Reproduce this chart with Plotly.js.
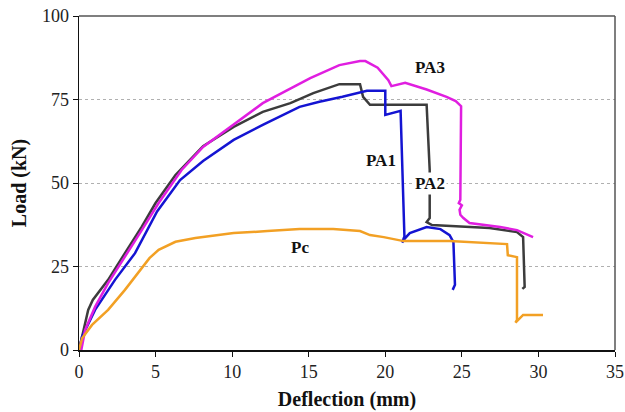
<!DOCTYPE html>
<html>
<head>
<meta charset="utf-8">
<script src="https://cdn.plot.ly/plotly-3.0.1.min.js"></script>
<style>html,body{margin:0;padding:0;background:#fff;}#chart{width:625px;height:412px;}</style>
</head>
<body>
<div id="chart"></div>
<script>
// Deflection (mm) / Load (kN)
const pa3X = [0, 0.15, 0.4, 1.05, 1.9, 3.0, 4.1, 5.2, 6.7, 8.1, 9.9, 12.0, 15.1, 17.0, 18.35, 18.7, 19.5, 20.2, 20.4, 21.3, 22.7, 24.0, 24.6, 24.95, 24.9, 24.8, 25.0, 24.85, 24.9, 25.1, 25.5, 27.5, 28.6, 29.65];
const pa3Y = [0, 0, 6, 12.9, 20, 27.8, 35.9, 44, 53.9, 60.8, 66.8, 73.9, 81.4, 85.3, 86.5, 86.5, 84.5, 80.8, 79, 80, 78, 75.8, 74.5, 73, 45, 44, 43.3, 42, 40.5, 39.5, 38, 36.8, 35.9, 33.8];

const pa2X = [0, 0.2, 0.6, 0.9, 1.9, 3.0, 4.1, 5.0, 6.3, 8.1, 10.1, 12.0, 13.8, 15.3, 17.0, 18.35, 18.55, 19.0, 22.7, 22.9, 22.9, 22.7, 23.05, 26.8, 28.6, 29.0, 29.1, 28.95];
const pa2Y = [0, 4, 12, 15, 21, 29, 36.9, 44, 52.4, 61, 66.8, 71.3, 73.9, 76.9, 79.6, 79.6, 75.8, 73.4, 73.4, 53.9, 39.5, 38.3, 37.4, 36.5, 35.3, 33.8, 18.9, 18.3];

const pa1X = [0, 0.2, 1.05, 2.35, 3.66, 5.1, 6.6, 8.1, 10.1, 12.0, 14.4, 15.7, 17.2, 18.8, 20.0, 20.0, 21.0, 21.25, 21.1, 21.3, 21.6, 22.7, 23.6, 24.2, 24.45, 24.55, 24.4];
const pa1Y = [0, 4, 12, 21, 29, 41.5, 50.9, 56.6, 62.9, 67.4, 72.8, 74.3, 75.8, 77.6, 77.6, 70.4, 71.6, 34, 32.2, 33.5, 35, 36.8, 36.2, 34.4, 32.3, 19.5, 18];

const pcX = [0, 0.2, 0.85, 1.9, 3.0, 4.0, 4.6, 5.2, 6.3, 7.6, 10.1, 12.3, 14.4, 16.6, 18.35, 19.0, 19.9, 21.2, 24.2, 27.95, 28.0, 28.6, 28.6, 28.5, 29.0, 30.3];
const pcY = [0, 3.5, 7.5, 12, 18, 24, 27.5, 30, 32.4, 33.5, 35, 35.6, 36.2, 36.2, 35.6, 34.4, 33.8, 32.6, 32.6, 31.7, 28.4, 27.8, 9, 8.2, 10.5, 10.5];

const seriesNames = ["PA2", "PA1", "PA3", "Pc"];
const labelText = ["PA3", "PA1", "PA2", "Pc"];
const labelX = [22.9, 19.7, 22.9, 14.4];
const labelY = [84.7, 56.6, 50.0, 30.8];

const xTicks = [0, 5, 10, 15, 20, 25, 30, 35];
const yTicks = [0, 25, 50, 75, 100];

const mk = (x, y, name, color) => ({
  x: x, y: y, name: name, type: 'scatter', mode: 'lines',
  line: {color: color, width: 2.5}, hoverinfo: 'skip'
});

const data = [
  mk(pa2X, pa2Y, seriesNames[0], '#3c3c3c'),
  mk(pa1X, pa1Y, seriesNames[1], '#1414d2'),
  mk(pa3X, pa3Y, seriesNames[2], '#e01ee0'),
  mk(pcX, pcY, seriesNames[3], '#f2a024')
];

const annotations = labelText.map((t, i) => ({
  x: labelX[i], y: labelY[i], xref: 'x', yref: 'y', text: '<b>' + t + '</b>',
  showarrow: false, bgcolor: t === 'PA2' ? '#ffffff' : 'rgba(0,0,0,0)',
  font: {family: 'Liberation Serif, Times New Roman, serif', size: 17, color: '#111'}
}));

const layout = {
  width: 625, height: 412,
  margin: {l: 79, r: 10, t: 16, b: 62},
  paper_bgcolor: '#fff', plot_bgcolor: '#fff',
  showlegend: false,
  font: {family: 'Liberation Serif, Times New Roman, serif', color: '#222'},
  xaxis: {
    range: [0, 35], tickvals: xTicks, ticktext: xTicks.map(String),
    showgrid: false, zeroline: false,
    showline: true, linecolor: '#111', linewidth: 1.5,
    ticks: 'outside', ticklen: 5, tickcolor: '#111',
    tickfont: {size: 18, color: '#222'},
    title: {text: '<b>Deflection (mm)</b>', font: {size: 20, color: '#111'}, standoff: 11}
  },
  yaxis: {
    range: [0, 100], tickvals: yTicks, ticktext: yTicks.map(String),
    showgrid: true, gridcolor: '#b0b0b0', griddash: '3px,3px', gridwidth: 1,
    zeroline: false,
    showline: true, linecolor: '#111', linewidth: 1.5,
    ticks: 'outside', ticklen: 5, tickcolor: '#111',
    tickfont: {size: 18, color: '#222'},
    title: {text: '<b>Load (kN)</b>', font: {size: 20, color: '#111'}, standoff: 10}
  },
  shapes: [
    {type: 'line', xref: 'paper', yref: 'paper', x0: 0, x1: 1, y0: 1, y1: 1, line: {color: '#555', width: 1.5}},
    {type: 'line', xref: 'paper', yref: 'paper', x0: 1, x1: 1, y0: 0, y1: 1, line: {color: '#555', width: 1.5}}
  ],
  annotations: annotations
};

Plotly.newPlot('chart', data, layout, {displayModeBar: false, staticPlot: true});
</script>
</body>
</html>
